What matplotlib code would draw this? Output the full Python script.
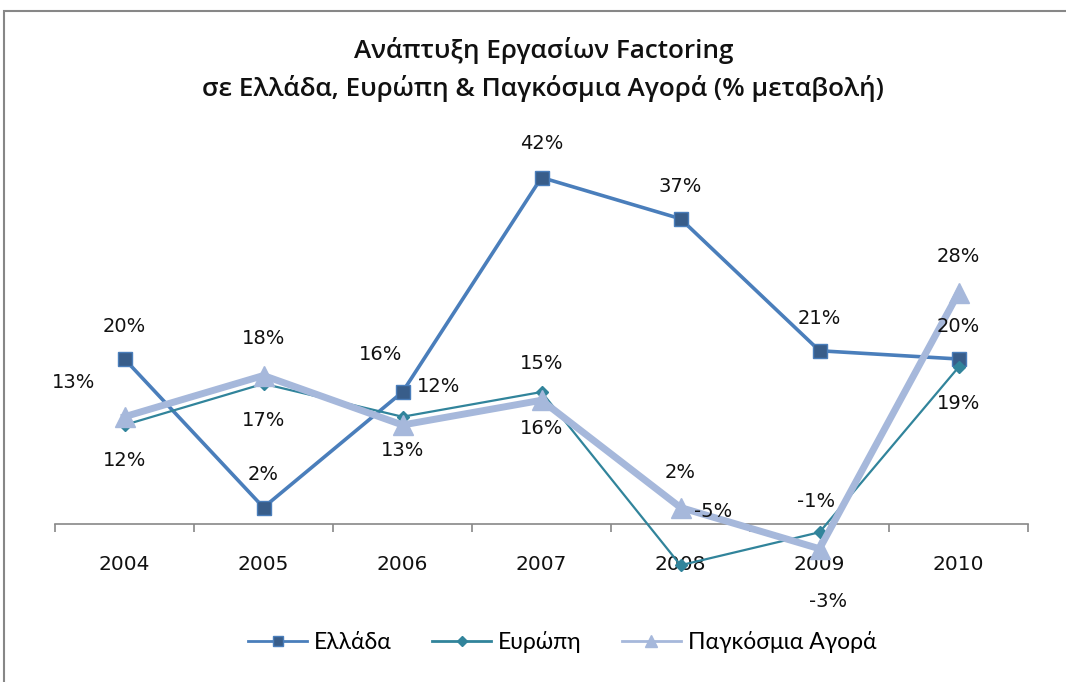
import matplotlib.pyplot as plt
from matplotlib.lines import Line2D
from matplotlib.patches import Rectangle

# data (% change)
years = ["2004", "2005", "2006", "2007", "2008", "2009", "2010"]
greece = [20, 2, 16, 42, 37, 21, 20]
europe = [12, 17, 13, 16, -5, -1, 19]
world = [13, 18, 12, 15, 2, -3, 28]
series_names = ["Ελλάδα", "Ευρώπη", "Παγκόσμια Αγορά"]

# label offsets in pixels (dx, dy) relative to each marker
greece_off = [(0, 32), (0, 33), (-22, 38), (0, 34), (0, 32), (0, 32), (0, 32)]
europe_off = [(0, -36), (0, -37), (0, -34), (0, -37), (33, 54), (-3, 31), (0, -36)]
world_off = [(-51, 34), (0, 37), (36, 39), (0, 37), (0, 35), (9, -53), (0, 36)]

c_gr, c_gr_mk = "#4A7EBB", "#385D8A"
c_eu = "#31849B"
c_wo = "#A6B8DB"

W, H = 1066, 682
fig = plt.figure(figsize=(W / 100, H / 100), dpi=100)

# axes placed so that value 0 sits at y=524px, ~8.25 px per %
ymin, ymax = -10, 50
px_per = 8.25
top_px = 524 - ymax * px_per
bot_px = 524 - ymin * px_per
ax = fig.add_axes([55 / W, 1 - bot_px / H, (1028 - 55) / W, (bot_px - top_px) / H])
ax.set_xlim(-0.5, 6.5)
ax.set_ylim(ymin, ymax)

x = list(range(len(years)))
ax.plot(x, greece, color=c_gr, lw=2.6, marker="s", ms=10.5,
        mfc=c_gr_mk, mec=c_gr, mew=1, zorder=3)
ax.plot(x, europe, color=c_eu, lw=1.6, marker="D", ms=6.5,
        mfc=c_eu, mec=c_eu, zorder=4)
ax.plot(x, world, color=c_wo, lw=5, marker="^", ms=15,
        mfc=c_wo, mec=c_wo, zorder=5)

for vals, offs in [(greece, greece_off), (europe, europe_off), (world, world_off)]:
    for xi, v, (dx, dy) in zip(x, vals, offs):
        ax.annotate(f"{v}%", (xi, v), xytext=(dx * 0.72, dy * 0.72),
                    textcoords="offset points", ha="center", va="center",
                    fontsize=14, family="DejaVu Sans", color="#111111", zorder=6)

# axis styling: only the category axis through zero
for s in ["top", "right", "left"]:
    ax.spines[s].set_visible(False)
ax.spines["bottom"].set_position(("data", 0))
ax.spines["bottom"].set_color("#888888")
ax.spines["bottom"].set_linewidth(1.2)
ax.set_yticks([])
ax.set_xticks([i - 0.5 for i in range(len(years) + 1)])
ax.set_xticklabels([])
ax.tick_params(axis="x", which="major", direction="out", length=6, color="#888888", width=1.2)
ax.set_xticks(x, minor=True)
ax.set_xticklabels(years, minor=True, fontsize=14.5, family="DejaVu Sans", color="#111111")
ax.tick_params(axis="x", which="minor", length=0, pad=22)
ax.patch.set_alpha(0)

fig.text(544 / W, 1 - 51 / H, "Ανάπτυξη Εργασίων Factoring", ha="center", va="center",
         fontsize=18.8, family="Open Sans", weight="semibold", color="#111111")
fig.text(543 / W, 1 - 88 / H, "σε Ελλάδα, Ευρώπη & Παγκόσμια Αγορά (% μεταβολή)", ha="center",
         va="center", fontsize=18.8, family="Open Sans", weight="semibold", color="#111111")

handles = [
    Line2D([], [], color=c_gr, lw=2, marker="s", ms=7.5, mfc=c_gr_mk, mec=c_gr),
    Line2D([], [], color=c_eu, lw=2, marker="D", ms=5.5, mfc=c_eu, mec=c_eu),
    Line2D([], [], color=c_wo, lw=2, marker="^", ms=8, mfc=c_wo, mec=c_wo),
]
fig.legend(handles, series_names, loc="center", bbox_to_anchor=(562 / W, 1 - 642 / H), ncol=3,
           frameon=False, prop={"family": "Lato", "size": 16.5}, handlelength=2.6,
           columnspacing=1.75, handletextpad=0.28)

fig.add_artist(Rectangle((4 / W, -0.05), 1.1, 1.05 - 11 / H, transform=fig.transFigure,
                         fill=False, ec="#878787", lw=1.5))

fig.savefig("out.png", dpi=100)
